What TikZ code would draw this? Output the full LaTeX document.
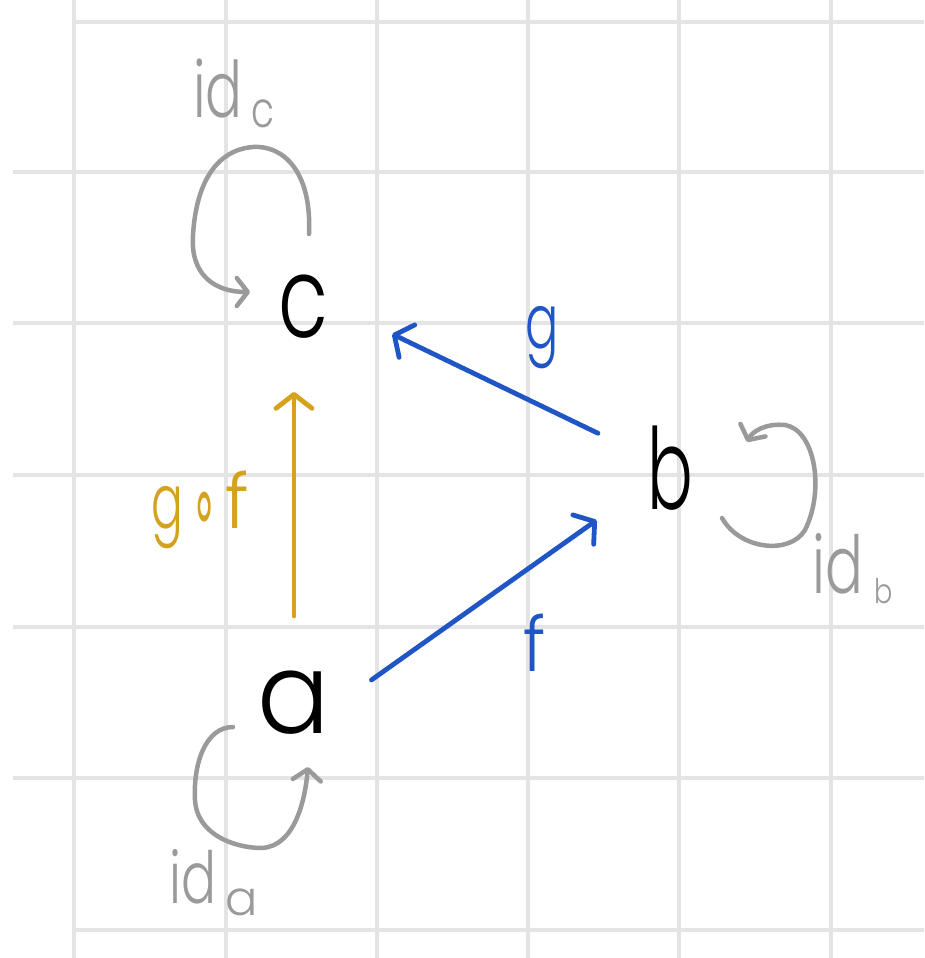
\documentclass[tikz,border=0pt]{standalone}
\usepackage{fontspec}
\newfontfamily\hand{Poppins}[UprightFont=* Light]
\newfontfamily\symf{DejaVu Sans}
\usetikzlibrary{arrows.meta,calc}
\definecolor{gridc}{HTML}{E4E4E4}
\definecolor{penblue}{HTML}{1F55C4}
\definecolor{pengold}{HTML}{D4A21C}
\definecolor{pengray}{HTML}{9A9A9A}
\newcommand{\narrow}[2]{\scalebox{#1}[1]{#2}}
\begin{document}
\begin{tikzpicture}[x=1pt,y=-1pt,
  gridline/.style={gridc,line width=3.5pt},
  obj/.style={font=\hand\fontsize{113}{113}\selectfont, inner sep=0pt},
  lbl/.style={font=\hand\fontsize{76}{76}\selectfont, inner sep=0pt},
  barbtip/.style={-{Straight Barb[length=14pt,width=36pt,round]}},
  morph/.style={line width=4.8pt, line cap=round, barbtip},
  idloop/.style={pengray, line width=4.5pt, line cap=round, -{Straight Barb[length=11pt,width=28pt,round]}},
  idlbl/.style={pengray, inner sep=0pt, anchor=base west}]
\fill[white] (0,0) rectangle (924,958);
\useasboundingbox (0,0) rectangle (924,958);
% grid
\foreach \x in {74,226,377,528,679,831} \draw[gridline] (\x,0) -- (\x,958);
\draw[gridline] (74,22) -- (924,22);
\foreach \y in {172,323,475,627,778} \draw[gridline] (13,\y) -- (924,\y);
\draw[gridline] (74,930) -- (924,930);
% objects
\node[obj] (c) at (303,307) {\narrow{0.72}{c}};
\node[obj] (b) at (670,468) {\narrow{0.6}{b}};
\node[obj] (a) at (294,703) {\narrow{0.95}{a}};
% morphisms
\draw[morph,pengold,shorten <=55pt,shorten >=53pt] (a.north) -- (a.north |- c.south);
\draw[morph,penblue,shorten <=80pt,shorten >=99pt] (b.center) -- ($(c.center)!0.5!(c.north)$);
\draw[morph,penblue,shorten <=95pt,shorten >=90pt] (a.south) -- (b.center);
% labels
\node[lbl,penblue] (glbl) at (542,338) {\narrow{0.65}{g}};
\node[lbl,penblue] (flbl) at (535,643) {\narrow{0.9}{f}};
\node[lbl,pengold] (gflbl) at (200,510) {\narrow{0.62}{g}\hspace{8pt}\raisebox{-9pt}{\symf\fontsize{84}{84}\selectfont\scalebox{0.5}[1.15]{∘}}\hspace{8pt}\narrow{0.95}{f}};
% identity loops
\draw[idloop] (309,234) .. controls (312,170) and (282,145) .. (253,147)
  .. controls (215,150) and (196,185) .. (193,235)
  .. controls (190,275) and (215,292) .. (250,292);
\draw[idloop] (722,518) .. controls (740,550) and (790,555) .. (805,530)
  .. controls (825,490) and (815,430) .. (785,425)
  .. controls (765,423) and (752,432) .. (747,442);
\draw[idloop] (233,727) .. controls (205,727) and (193,765) .. (195,800)
  .. controls (197,835) and (235,848) .. (262,848)
  .. controls (295,846) and (305,800) .. (308,767);
\node[idlbl,font=\hand\fontsize{78}{78}\selectfont] (idc) at (193,117) {\narrow{0.7}{id}\hspace{9pt}\raisebox{-10pt}{\fontsize{50}{50}\selectfont\narrow{0.75}{c}}};
\node[idlbl,font=\hand\fontsize{80}{80}\selectfont] (idb) at (812,593) {\narrow{0.7}{id}\hspace{12pt}\raisebox{-10pt}{\fontsize{34}{34}\selectfont\narrow{0.8}{b}}};
\node[idlbl,font=\hand\fontsize{72}{72}\selectfont] (ida) at (169,903) {\narrow{0.72}{id}\hspace{9pt}\raisebox{-12pt}{\fontsize{48}{48}\selectfont a}};
\end{tikzpicture}
\end{document}
